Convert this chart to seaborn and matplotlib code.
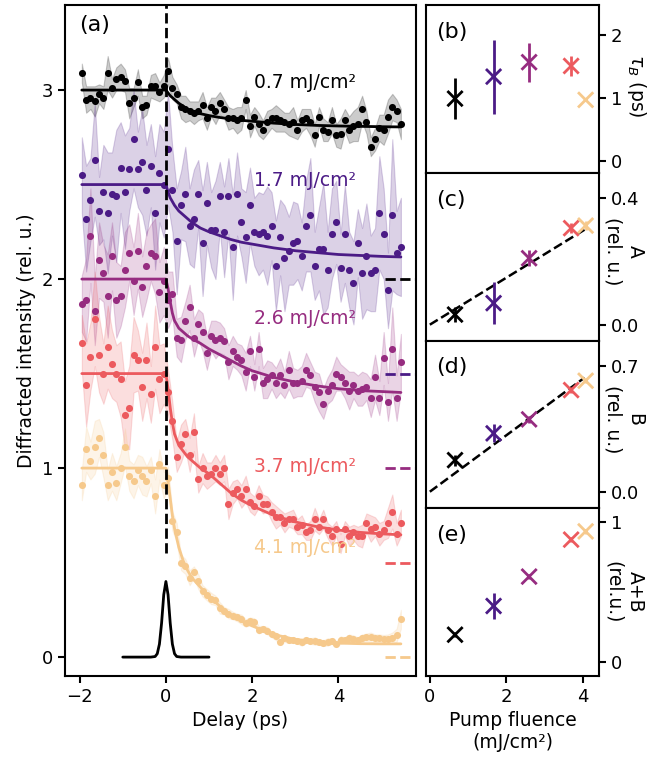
import numpy as np
import pandas as pd
import matplotlib
matplotlib.use("Agg")
import matplotlib.pyplot as plt
import seaborn as sns

# ---------------- data ----------------
delay = [-1.95, -1.85, -1.75, -1.65, -1.55, -1.45, -1.35, -1.25, -1.15, -1.05,
         -0.95, -0.85, -0.75, -0.65, -0.55, -0.45, -0.35, -0.25, -0.15, -0.05,
         0.05, 0.15, 0.25, 0.35, 0.45, 0.55, 0.65, 0.75, 0.85, 0.95,
         1.05, 1.15, 1.25, 1.35, 1.45, 1.55, 1.65, 1.75, 1.85, 1.95,
         2.05, 2.15, 2.25, 2.35, 2.45, 2.55, 2.65, 2.75, 2.85, 2.95,
         3.05, 3.15, 3.25, 3.35, 3.45, 3.55, 3.65, 3.75, 3.85, 3.95,
         4.05, 4.15, 4.25, 4.35, 4.45, 4.55, 4.65, 4.75, 4.85, 4.95,
         5.05, 5.15, 5.25, 5.35, 5.45]

fluence_labels = ["0.7", "1.7", "2.6", "3.7", "4.1"]
colors = ["#000000", "#4b1b86", "#962c80", "#ec5a5e", "#f6c98c"]
zero_levels = [2.0, 1.5, 1.0, 0.5, 0.0]

int_07 = [3.09, 2.95, 2.96, 2.94, 2.98, 2.96, 3.09, 3.01, 3.06, 3.07,
          3.05, 2.93, 2.96, 3.04, 2.91, 2.92, 3.02, 3.02, 2.99, 3.02,
          3.10, 3.01, 2.98, 2.91, 2.90, 2.89, 2.88, 2.89, 2.92, 2.85,
          2.91, 2.89, 2.93, 2.90, 2.85, 2.85, 2.84, 2.85, 2.95, 2.81,
          2.86, 2.82, 2.79, 2.83, 2.85, 2.85, 2.84, 2.83, 2.82, 2.83,
          2.79, 2.84, 2.85, 2.83, 2.76, 2.86, 2.79, 2.78, 2.84, 2.76,
          2.77, 2.84, 2.79, 2.81, 2.82, 2.90, 2.83, 2.70, 2.74, 2.80,
          2.79, 2.86, 2.91, 2.89, 2.82]
err_07 = [0.05, 0.07, 0.06, 0.08, 0.05, 0.06, 0.09, 0.05, 0.06, 0.07,
          0.06, 0.08, 0.05, 0.07, 0.06, 0.05, 0.06, 0.07, 0.05, 0.06,
          0.07, 0.06, 0.05, 0.06, 0.07, 0.05, 0.06, 0.05, 0.07, 0.06,
          0.05, 0.07, 0.06, 0.05, 0.06, 0.05, 0.07, 0.06, 0.05, 0.06,
          0.05, 0.06, 0.05, 0.06, 0.05, 0.07, 0.06, 0.05, 0.06, 0.08,
          0.05, 0.06, 0.05, 0.07, 0.06, 0.05, 0.06, 0.05, 0.07, 0.06,
          0.08, 0.06, 0.07, 0.08, 0.09, 0.07, 0.06, 0.05, 0.06, 0.07,
          0.08, 0.09, 0.07, 0.06, 0.08]

int_17 = [2.55, 2.32, 2.42, 2.63, 2.36, 2.46, 2.35, 2.45, 2.44, 2.59,
          2.46, 2.58, 2.74, 2.58, 2.62, 2.47, 2.60, 2.35, 2.56, 2.50,
          2.69, 2.47, 2.20, 2.39, 2.45, 2.28, 2.32, 2.45, 2.19, 2.40,
          2.26, 2.26, 2.44, 2.25, 2.44, 2.17, 2.45, 2.30, 2.22, 2.39,
          2.25, 2.24, 2.25, 2.23, 2.28, 2.07, 2.22, 2.11, 2.15, 2.19,
          2.20, 2.12, 2.28, 2.34, 2.07, 2.16, 2.16, 2.05, 2.24, 2.30,
          2.06, 2.24, 2.05, 1.98, 2.19, 2.03, 2.12, 2.03, 2.05, 2.35,
          2.24, 1.94, 2.34, 2.14, 2.17]
err_17 = [0.20, 0.28, 0.22, 0.30, 0.18, 0.25, 0.32, 0.22, 0.35, 0.24,
          0.30, 0.22, 0.26, 0.20, 0.28, 0.24, 0.22, 0.30, 0.26, 0.28,
          0.30, 0.22, 0.28, 0.18, 0.25, 0.20, 0.26, 0.18, 0.28, 0.22,
          0.20, 0.26, 0.18, 0.24, 0.20, 0.28, 0.22, 0.18, 0.24, 0.20,
          0.18, 0.22, 0.20, 0.26, 0.18, 0.24, 0.20, 0.28, 0.18, 0.22,
          0.20, 0.18, 0.24, 0.30, 0.18, 0.22, 0.35, 0.20, 0.24, 0.22,
          0.18, 0.26, 0.20, 0.22, 0.18, 0.24, 0.28, 0.20, 0.22, 0.30,
          0.24, 0.20, 0.40, 0.22, 0.26]

int_26 = [1.87, 1.89, 2.23, 1.83, 2.10, 2.03, 1.91, 2.12, 1.89, 1.91,
          2.05, 2.14, 1.99, 2.15, 1.96, 2.07, 2.14, 2.12, 1.93, 1.99,
          1.89, 1.92, 1.69, 1.68, 1.78, 1.85, 1.69, 1.76, 1.72, 1.61,
          1.70, 1.68, 1.69, 1.67, 1.56, 1.62, 1.59, 1.57, 1.51, 1.62,
          1.48, 1.63, 1.45, 1.47, 1.49, 1.45, 1.49, 1.44, 1.52, 1.45,
          1.45, 1.46, 1.52, 1.49, 1.43, 1.40, 1.34, 1.41, 1.44, 1.50,
          1.48, 1.45, 1.41, 1.44, 1.41, 1.42, 1.43, 1.37, 1.48, 1.37,
          1.58, 1.35, 1.63, 1.37, 1.56]
err_26 = [0.15, 0.22, 0.25, 0.18, 0.20, 0.15, 0.22, 0.18, 0.20, 0.16,
          0.20, 0.15, 0.18, 0.20, 0.16, 0.18, 0.15, 0.20, 0.16, 0.18,
          0.15, 0.12, 0.10, 0.12, 0.10, 0.12, 0.10, 0.08, 0.10, 0.09,
          0.08, 0.10, 0.08, 0.07, 0.09, 0.08, 0.07, 0.08, 0.10, 0.08,
          0.07, 0.09, 0.08, 0.10, 0.07, 0.08, 0.09, 0.07, 0.10, 0.08,
          0.07, 0.08, 0.09, 0.07, 0.08, 0.10, 0.08, 0.07, 0.08, 0.09,
          0.07, 0.08, 0.10, 0.07, 0.08, 0.09, 0.07, 0.10, 0.12, 0.09,
          0.14, 0.10, 0.22, 0.12, 0.15]

int_37 = [1.66, 1.44, 1.59, 1.79, 1.60, 1.50, 1.64, 1.55, 1.50, 1.47,
          1.28, 1.32, 1.60, 1.57, 1.43, 1.57, 1.39, 1.64, 1.47, 1.50,
          1.40, 1.25, 1.06, 1.13, 1.18, 1.07, 1.19, 0.94, 1.00, 0.96,
          0.97, 1.00, 0.97, 1.00, 0.81, 0.87, 0.89, 0.85, 0.89, 0.82,
          0.80, 0.85, 0.81, 0.81, 0.77, 0.74, 0.74, 0.71, 0.73, 0.73,
          0.69, 0.70, 0.66, 0.67, 0.73, 0.69, 0.73, 0.67, 0.64, 0.68,
          0.60, 0.68, 0.64, 0.66, 0.64, 0.64, 0.71, 0.68, 0.69, 0.65,
          0.67, 0.71, 0.77, 0.65, 0.71]
err_37 = [0.15, 0.22, 0.18, 0.25, 0.20, 0.16, 0.22, 0.18, 0.15, 0.20,
          0.18, 0.22, 0.20, 0.16, 0.18, 0.20, 0.15, 0.22, 0.18, 0.16,
          0.12, 0.10, 0.08, 0.10, 0.08, 0.09, 0.10, 0.07, 0.08, 0.07,
          0.06, 0.07, 0.06, 0.07, 0.08, 0.06, 0.05, 0.06, 0.07, 0.05,
          0.05, 0.06, 0.05, 0.04, 0.05, 0.06, 0.04, 0.05, 0.04, 0.05,
          0.04, 0.05, 0.04, 0.05, 0.06, 0.04, 0.05, 0.04, 0.05, 0.04,
          0.05, 0.04, 0.05, 0.04, 0.05, 0.06, 0.05, 0.07, 0.05, 0.06,
          0.05, 0.08, 0.09, 0.06, 0.07]

int_41 = [0.91, 1.10, 1.04, 1.11, 1.16, 1.07, 0.91, 0.98, 0.92, 1.00,
          1.11, 0.96, 0.93, 0.99, 0.96, 0.93, 0.99, 0.85, 1.02, 0.91,
          0.95, 0.72, 0.66, 0.50, 0.48, 0.42, 0.45, 0.40, 0.35, 0.33,
          0.31, 0.30, 0.26, 0.245, 0.23, 0.22, 0.21, 0.20, 0.18, 0.19,
          0.186, 0.145, 0.15, 0.14, 0.12, 0.11, 0.08, 0.10, 0.09, 0.09,
          0.085, 0.08, 0.09, 0.085, 0.085, 0.08, 0.075, 0.08, 0.085, 0.07,
          0.09, 0.09, 0.10, 0.095, 0.09, 0.10, 0.105, 0.105, 0.10, 0.10,
          0.097, 0.095, 0.10, 0.115, 0.20]
err_41 = [0.08, 0.12, 0.10, 0.14, 0.10, 0.12, 0.08, 0.10, 0.09, 0.08,
          0.10, 0.08, 0.09, 0.08, 0.10, 0.08, 0.07, 0.09, 0.08, 0.07,
          0.06, 0.05, 0.05, 0.04, 0.04, 0.04, 0.03, 0.04, 0.03, 0.03,
          0.03, 0.025, 0.03, 0.02, 0.025, 0.02, 0.02, 0.025, 0.02, 0.02,
          0.02, 0.02, 0.015, 0.02, 0.015, 0.02, 0.015, 0.02, 0.015, 0.015,
          0.015, 0.02, 0.015, 0.015, 0.02, 0.015, 0.015, 0.02, 0.015, 0.015,
          0.02, 0.015, 0.02, 0.02, 0.015, 0.02, 0.02, 0.025, 0.02, 0.02,
          0.02, 0.025, 0.03, 0.035, 0.05]

fit_delay = [-1.95, 0.0, 0.05, 0.1, 0.15, 0.2, 0.3, 0.4, 0.5, 0.6, 0.8, 1.0,
             1.25, 1.5, 1.75, 2.0, 2.5, 3.0, 3.5, 4.0, 4.5, 5.0, 5.45]
fit_07 = [3.0, 3.0, 2.985, 2.97, 2.96, 2.95, 2.93, 2.915, 2.90, 2.89, 2.875, 2.865,
          2.855, 2.847, 2.84, 2.835, 2.825, 2.818, 2.813, 2.81, 2.808, 2.806, 2.805]
fit_17 = [2.5, 2.5, 2.46, 2.43, 2.41, 2.39, 2.36, 2.34, 2.32, 2.30, 2.27, 2.25,
          2.23, 2.21, 2.195, 2.185, 2.165, 2.15, 2.14, 2.13, 2.125, 2.12, 2.117]
fit_26 = [2.0, 2.0, 1.95, 1.88, 1.82, 1.78, 1.74, 1.72, 1.70, 1.685, 1.66, 1.63,
          1.60, 1.57, 1.54, 1.515, 1.48, 1.455, 1.435, 1.42, 1.41, 1.405, 1.40]
fit_37 = [1.5, 1.5, 1.42, 1.32, 1.24, 1.18, 1.12, 1.09, 1.06, 1.04, 1.00, 0.97,
          0.92, 0.87, 0.83, 0.80, 0.75, 0.715, 0.69, 0.672, 0.66, 0.652, 0.647]
fit_41 = [1.0, 1.0, 0.93, 0.84, 0.75, 0.68, 0.58, 0.51, 0.46, 0.42, 0.37, 0.32,
          0.27, 0.225, 0.19, 0.165, 0.12, 0.093, 0.08, 0.074, 0.071, 0.07, 0.07]

pulse_delay = [-1.0, -0.35, -0.25, -0.2, -0.15, -0.1, -0.05, 0.0,
               0.05, 0.1, 0.15, 0.2, 0.25, 0.35, 1.0]
pulse_amp = [0.0, 0.0, 0.003, 0.018, 0.069, 0.18, 0.33, 0.40,
             0.33, 0.18, 0.069, 0.018, 0.003, 0.0, 0.0]

fluence = [0.66, 1.67, 2.6, 3.7, 4.08]
tau_b = [0.99, 1.34, 1.57, 1.51, 0.97]
tau_b_err = [0.33, 0.59, 0.31, 0.16, 0.01]
amp_a = [0.032, 0.068, 0.21, 0.305, 0.313]
amp_a_err = [0.025, 0.066, 0.026, 0.015, 0.015]
amp_b = [0.176, 0.325, 0.403, 0.566, 0.618]
amp_b_err = [0.03, 0.05, 0.02, 0.015, 0.015]
amp_ab = [0.195, 0.40, 0.61, 0.874, 0.933]
amp_ab_err = [0.02, 0.09, 0.02, 0.02, 0.02]

lin_fluence = [0.0, 4.05]
lin_a = [0.0, 0.30]
lin_b = [0.0, 0.635]

# ---------------- style ----------------
sns.set_style("ticks")
plt.rcParams["font.family"] = ["DejaVu Sans"]
plt.rcParams["axes.linewidth"] = 1.5
plt.rcParams["xtick.major.width"] = 1.5
plt.rcParams["ytick.major.width"] = 1.5
plt.rcParams["xtick.major.size"] = 5
plt.rcParams["ytick.major.size"] = 5
plt.rcParams["xtick.labelsize"] = 13
plt.rcParams["ytick.labelsize"] = 13
plt.rcParams["axes.labelsize"] = 13.5
plt.rcParams["axes.edgecolor"] = "black"
plt.rcParams["xtick.color"] = "black"
plt.rcParams["ytick.color"] = "black"
plt.rcParams["text.color"] = "black"
plt.rcParams["axes.labelcolor"] = "black"

W, H = 654, 771
fig = plt.figure(figsize=(W / 100, H / 100), dpi=100)

def rect(x0, y0, x1, y1):
    return [x0 / W, 1 - y1 / H, (x1 - x0) / W, (y1 - y0) / H]

ax = fig.add_axes(rect(65, 5, 416, 676))

series = [
    (int_07, err_07, fit_07),
    (int_17, err_17, fit_17),
    (int_26, err_26, fit_26),
    (int_37, err_37, fit_37),
    (int_41, err_41, fit_41),
]
label_y = [3.04, 2.52, 1.79, 1.01, 0.58]

for i, (vals, errs, fit) in enumerate(series):
    c = colors[i]
    v = np.array(vals)
    e = np.array(errs)
    ax.fill_between(delay, v - e, v + e, color=c, alpha=0.2, lw=0.8, zorder=1)
    df = pd.DataFrame({"delay": delay, "intensity": vals})
    sns.scatterplot(data=df, x="delay", y="intensity", color=c, s=26,
                    linewidth=0, ax=ax, zorder=3, legend=False)
    fdf = pd.DataFrame({"delay": fit_delay, "fit": fit})
    sns.lineplot(data=fdf, x="delay", y="fit", color=c, lw=2, ax=ax,
                 zorder=4, legend=False)
    ax.plot([5.08, 6.0], [zero_levels[i]] * 2, ls="--", color=c, lw=2,
            zorder=2)
    ax.text(2.05, label_y[i], f"{fluence_labels[i]} mJ/cm²", color=c,
            fontsize=13.5, va="center", ha="left", zorder=5)

ax.plot([0, 0], [0.55, 4.0], ls="--", color="black", lw=2, zorder=5)
sns.lineplot(x=pulse_delay, y=pulse_amp, color="black", lw=2, ax=ax,
             zorder=5, legend=False)

ax.set_xlim(-2.34, 5.8)
ax.set_ylim(-0.10, 3.45)
ax.set_xticks([-2, 0, 2, 4])
ax.set_yticks([0, 1, 2, 3])
ax.set_xlabel("Delay (ps)")
ax.set_ylabel("Diffracted intensity (rel. u.)")
ax.text(0.04, 0.985, "(a)", transform=ax.transAxes, fontsize=16,
        va="top", ha="left")

# ---------------- right panels ----------------
ph = (676 - 5) / 4.0
right_axes = []
for k in range(4):
    y0 = 5 + k * ph
    right_axes.append(fig.add_axes(rect(426, y0, 599, y0 + ph)))

panel_data = [
    (tau_b, tau_b_err, (-0.19, 2.48), [0, 1, 2], ["0", "1", "2"],
     r"$\tau_B$ (ps)", "(b)", None, (1.215, 0.52)),
    (amp_a, amp_a_err, (-0.05, 0.48), [0.0, 0.4], ["0.0", "0.4"],
     "A\n(rel. u.)", "(c)", lin_a, (1.145, 0.53)),
    (amp_b, amp_b_err, (-0.092, 0.842), [0.0, 0.7], ["0.0", "0.7"],
     "B\n(rel. u.)", "(d)", lin_b, (1.145, 0.53)),
    (amp_ab, amp_ab_err, (-0.10, 1.098), [0, 1], ["0", "1"],
     "A+B\n(rel.u.)", "(e)", None, (1.145, 0.50)),
]

for k, (rax, (vals, errs, ylim, yt, ytl, ylab, plab, lin, lpos)) in enumerate(
        zip(right_axes, panel_data)):
    pdf = pd.DataFrame({"fluence": fluence, "value": vals,
                        "label": fluence_labels})
    if lin is not None:
        sns.lineplot(x=lin_fluence, y=lin, color="black", lw=1.8,
                     linestyle="--", ax=rax, zorder=2, legend=False)
    for i in range(len(fluence)):
        rax.errorbar(fluence[i], vals[i], yerr=errs[i], fmt="none",
                     ecolor=colors[i], elinewidth=2, capsize=0, zorder=3)
    sns.scatterplot(data=pdf, x="fluence", y="value", hue="label",
                    palette=colors, marker="x", s=120, linewidth=2,
                    ax=rax, zorder=4, legend=False)
    rax.set_xlim(-0.1, 4.43)
    rax.set_ylim(*ylim)
    rax.set_yticks(yt)
    rax.set_yticklabels(ytl)
    rax.yaxis.tick_right()
    rax.yaxis.set_label_position("right")
    rax.set_ylabel(ylab, rotation=270, multialignment="center",
                   va="center", ha="center")
    rax.yaxis.set_label_coords(lpos[0], lpos[1])
    rax.text(0.06, 0.9, plab, transform=rax.transAxes, fontsize=16,
             va="top", ha="left")
    if k < 3:
        rax.set_xticks([])
        rax.set_xlabel("")
    else:
        rax.set_xticks([0, 2, 4])
        rax.set_xlabel("Pump fluence\n(mJ/cm²)")

fig.savefig("out.png", dpi=100)
